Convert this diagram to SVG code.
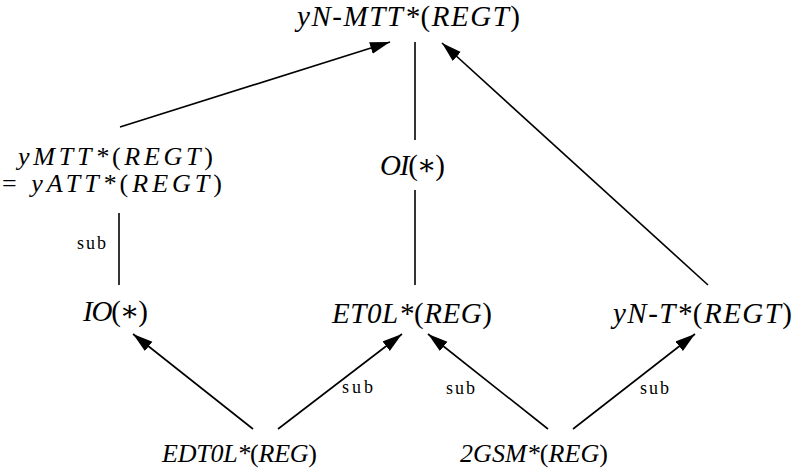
<svg xmlns="http://www.w3.org/2000/svg" width="797" height="470" viewBox="0 0 797 470">
<style>
.n{font-family:"Liberation Serif","DejaVu Serif",serif;font-style:italic;font-size:29px;fill:#000}
.b{font-size:26px}
.u{font-style:normal}
.s{font-family:"Liberation Serif","DejaVu Serif",serif;font-size:18px;fill:#000}
.e{stroke:#000;stroke-width:1.6;fill:none}
.a{marker-end:url(#ah)}
</style>
<defs>
<marker id="ah" markerUnits="userSpaceOnUse" markerWidth="22" markerHeight="14" refX="20" refY="6" orient="auto">
<path d="M0,0 L20,6 L0,12 z" fill="#000"/>
</marker>
</defs>
<rect width="797" height="470" fill="#fff"/>
<g id="edges">
<line class="e a" x1="120" y1="127" x2="390" y2="42"/>
<line class="e" x1="415" y1="42" x2="415" y2="140"/>
<line class="e" x1="415" y1="190" x2="415" y2="285"/>
<line class="e a" x1="708" y1="285" x2="442" y2="43"/>
<line class="e" x1="119" y1="213" x2="119" y2="285"/>
<text class="s" x="77" y="249" textLength="29" lengthAdjust="spacing">sub</text>
<line class="e a" x1="253" y1="429" x2="133" y2="334"/>
<line class="e a" x1="278" y1="429" x2="402" y2="334"/>
<text class="s" x="342" y="393" textLength="31" lengthAdjust="spacing">sub</text>
<line class="e a" x1="548" y1="429" x2="428" y2="334"/>
<text class="s" x="446" y="394" textLength="29" lengthAdjust="spacing">sub</text>
<line class="e a" x1="573" y1="429" x2="695" y2="334"/>
<text class="s" x="640" y="394" textLength="29" lengthAdjust="spacing">sub</text>
</g>
<g id="yNMTT">
<text class="n" x="297" y="26" textLength="223" lengthAdjust="spacing">yN-MTT*<tspan class="u">(</tspan>REGT<tspan class="u">)</tspan></text>
</g>
<g id="yMTT">
<text class="n b" x="18" y="165" textLength="195" lengthAdjust="spacing">yMTT*<tspan class="u">(</tspan>REGT<tspan class="u">)</tspan></text>
<text class="n b" x="2" y="192" textLength="220" lengthAdjust="spacing"><tspan class="u">= </tspan>yATT*<tspan class="u">(</tspan>REGT<tspan class="u">)</tspan></text>
</g>
<g id="OI">
<text class="n" x="380" y="175" textLength="65" lengthAdjust="spacing">OI<tspan class="u">(∗)</tspan></text>
</g>
<g id="IO">
<text class="n" x="83" y="321" textLength="65" lengthAdjust="spacing">IO<tspan class="u">(∗)</tspan></text>
</g>
<g id="ET0L">
<text class="n" x="332" y="323" textLength="160" lengthAdjust="spacing">ET0L*<tspan class="u">(</tspan>REG<tspan class="u">)</tspan></text>
</g>
<g id="yNT">
<text class="n" x="613" y="323" textLength="179" lengthAdjust="spacing">yN-T*<tspan class="u">(</tspan>REGT<tspan class="u">)</tspan></text>
</g>
<g id="EDT0L">
<text class="n b" x="162" y="462" textLength="155" lengthAdjust="spacing">EDT0L*<tspan class="u">(</tspan>REG<tspan class="u">)</tspan></text>
</g>
<g id="GSM">
<text class="n b" x="460" y="462" textLength="148" lengthAdjust="spacing">2GSM*<tspan class="u">(</tspan>REG<tspan class="u">)</tspan></text>
</g>
</svg>
